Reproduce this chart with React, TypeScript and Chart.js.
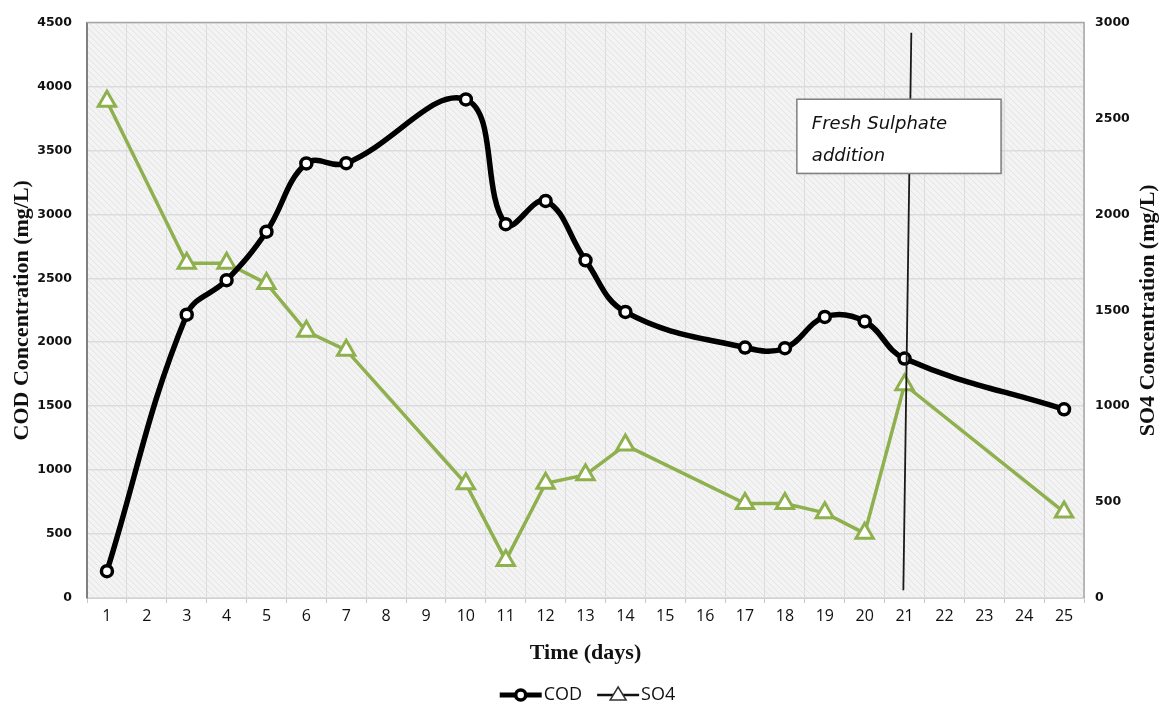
import React, { useEffect, useRef } from 'react';
import { Chart, registerables } from 'chart.js';

Chart.register(...registerables);

// ---- data ----
const days: string[] = [
  '1', '2', '3', '4', '5', '6', '7', '8', '9', '10', '11', '12', '13',
  '14', '15', '16', '17', '18', '19', '20', '21', '22', '23', '24', '25',
];
const codValues: (number | null)[] = [
  210, null, 2215, 2485, 2864, 3398, 3400, null, null, 3898, 2923, 3105, 2640,
  2237, null, null, 1958, 1953, 2198, 2163, 1872, null, null, null, 1475,
];
const so4Values: (number | null)[] = [
  2590, null, 1745, 1745, 1640, 1390, 1292, null, null, 595, 196, 598, 642,
  797, null, null, 492, 492, 444, 337, 1112, null, null, null, 448,
];
const codAxisRange = [0, 4500];
const so4AxisRange = [0, 3000];
const tickStep = 500;

const seriesNames = ['COD', 'SO4'];
const axisTitles = ['Time (days)', 'COD Concentration (mg/L)', 'SO4 Concentration (mg/L)'];
const annotationLines = ['Fresh Sulphate', 'addition'];
// annotation box (days / COD units)
const annotationDayStart = 18.3;
const annotationDayEnd = 23.42;
const annotationCodTop = 3900;
const annotationCodBottom = 3320;
// fresh sulphate marker line (days / COD units)
const markerDayTop = 21.17;
const markerDayBottom = 20.97;
const markerCodTop = 4420;
const markerCodBottom = 60;

const COD_COLOR = '#000000';
const SO4_COLOR = '#8fb04e';
const TITLE_FONT = 'bold 22px "Liberation Serif"';

function makePattern(): CanvasPattern | string {
  const c = document.createElement('canvas');
  c.width = 6;
  c.height = 6;
  const g = c.getContext('2d');
  if (!g) return '#f2f2f2';
  g.fillStyle = '#f3f3f3';
  g.fillRect(0, 0, 6, 6);
  g.strokeStyle = '#e4e4e4';
  g.lineWidth = 1;
  g.beginPath();
  g.moveTo(-1, -1);
  g.lineTo(7, 7);
  g.moveTo(-4, 2);
  g.lineTo(4, 10);
  g.moveTo(2, -4);
  g.lineTo(10, 4);
  g.stroke();
  const p = g.createPattern(c, 'repeat');
  return p || '#f2f2f2';
}

const plainNumber = (v: any) => String(v);

export default function App() {
  const canvasRef = useRef<HTMLCanvasElement | null>(null);

  useEffect(() => {
    const canvas = canvasRef.current;
    if (!canvas) return;
    const pattern = makePattern();

    const backgroundPlugin = {
      id: 'plotBackground',
      beforeDraw(chart: any) {
        const { ctx, chartArea } = chart;
        ctx.save();
        ctx.fillStyle = pattern;
        ctx.fillRect(chartArea.left, chartArea.top, chartArea.right - chartArea.left, chartArea.bottom - chartArea.top);
        ctx.restore();
      },
      beforeDatasetsDraw(chart: any) {
        const { ctx, chartArea } = chart;
        ctx.save();
        ctx.strokeStyle = '#a6a6a6';
        ctx.lineWidth = 1.5;
        ctx.beginPath();
        ctx.moveTo(chartArea.left, chartArea.top);
        ctx.lineTo(chartArea.right, chartArea.top);
        ctx.lineTo(chartArea.right, chartArea.bottom);
        ctx.stroke();
        ctx.restore();
      },
      afterDraw(chart: any) {
        // right axis title, reading bottom-to-top like the left one
        const { ctx, chartArea } = chart;
        const y1 = chart.scales.y1;
        ctx.save();
        ctx.translate(y1.right - 23, (chartArea.top + chartArea.bottom) / 2);
        ctx.rotate(-Math.PI / 2);
        ctx.font = TITLE_FONT;
        ctx.fillStyle = '#111';
        ctx.textAlign = 'center';
        ctx.textBaseline = 'middle';
        ctx.fillText(axisTitles[2], 0, 0);
        ctx.restore();
      },
    };

    const annotationPlugin = {
      id: 'sulphateAnnotation',
      afterDatasetsDraw(chart: any) {
        const { ctx } = chart;
        const x = chart.scales.x;
        const y = chart.scales.y;
        ctx.save();
        // marker line
        ctx.strokeStyle = '#1a1a1a';
        ctx.lineWidth = 1.8;
        ctx.beginPath();
        ctx.moveTo(x.getPixelForValue(markerDayTop - 1), y.getPixelForValue(markerCodTop));
        ctx.lineTo(x.getPixelForValue(markerDayBottom - 1), y.getPixelForValue(markerCodBottom));
        ctx.stroke();
        // box
        const bx0 = x.getPixelForValue(annotationDayStart - 1);
        const bx1 = x.getPixelForValue(annotationDayEnd - 1);
        const by0 = y.getPixelForValue(annotationCodTop);
        const by1 = y.getPixelForValue(annotationCodBottom);
        ctx.shadowColor = 'rgba(0,0,0,0.25)';
        ctx.shadowBlur = 3;
        ctx.shadowOffsetX = 1;
        ctx.shadowOffsetY = 1;
        ctx.fillStyle = '#ffffff';
        ctx.fillRect(bx0, by0, bx1 - bx0, by1 - by0);
        ctx.shadowColor = 'transparent';
        ctx.strokeStyle = '#7f7f7f';
        ctx.lineWidth = 1.5;
        ctx.strokeRect(bx0, by0, bx1 - bx0, by1 - by0);
        ctx.fillStyle = '#111111';
        ctx.font = 'italic 18px "DejaVu Sans"';
        ctx.textAlign = 'left';
        ctx.textBaseline = 'alphabetic';
        annotationLines.forEach((line, i) => {
          ctx.fillText(line, bx0 + 15, by0 + 30 + i * 32);
        });
        ctx.restore();
      },
    };

    const legendPlugin = {
      id: 'customLegend',
      afterDraw(chart: any) {
        const { ctx, chartArea } = chart;
        ctx.save();
        ctx.font = '18px "Open Sans"';
        ctx.textBaseline = 'middle';
        ctx.textAlign = 'left';
        const iconW = 42;
        const gap = 2;
        const spacing = 15;
        const w0 = ctx.measureText(seriesNames[0]).width;
        const w1 = ctx.measureText(seriesNames[1]).width;
        const total = iconW + gap + w0 + spacing + iconW + gap + w1;
        let cx = (chartArea.left + chartArea.right) / 2 - total / 2 + 2;
        const cy = 695;
        // COD icon
        ctx.strokeStyle = '#000';
        ctx.lineWidth = 5;
        ctx.beginPath();
        ctx.moveTo(cx, cy);
        ctx.lineTo(cx + iconW, cy);
        ctx.stroke();
        ctx.beginPath();
        ctx.arc(cx + iconW / 2, cy, 5, 0, Math.PI * 2);
        ctx.fillStyle = '#fff';
        ctx.fill();
        ctx.lineWidth = 3.5;
        ctx.stroke();
        ctx.fillStyle = '#111';
        ctx.fillText(seriesNames[0], cx + iconW + gap, cy);
        cx += iconW + gap + w0 + spacing;
        // SO4 icon
        ctx.strokeStyle = '#111';
        ctx.lineWidth = 2.5;
        ctx.beginPath();
        ctx.moveTo(cx, cy);
        ctx.lineTo(cx + iconW, cy);
        ctx.stroke();
        const tx = cx + iconW / 2;
        ctx.beginPath();
        ctx.moveTo(tx, cy - 8);
        ctx.lineTo(tx + 8, cy + 5);
        ctx.lineTo(tx - 8, cy + 5);
        ctx.closePath();
        ctx.fillStyle = '#fff';
        ctx.fill();
        ctx.lineWidth = 1.5;
        ctx.strokeStyle = '#333';
        ctx.stroke();
        ctx.fillStyle = '#111';
        ctx.fillText(seriesNames[1], cx + iconW + gap, cy);
        ctx.restore();
      },
    };

    const chart = new Chart(canvas, {
      type: 'line',
      data: {
        labels: days,
        datasets: [
          {
            label: seriesNames[0],
            data: codValues,
            yAxisID: 'y',
            borderColor: COD_COLOR,
            borderWidth: 5.5,
            tension: 0.4,
            spanGaps: true,
            pointStyle: 'circle',
            pointRadius: 5.5,
            pointBorderWidth: 3.5,
            pointBackgroundColor: '#ffffff',
            pointBorderColor: COD_COLOR,
            order: 1,
          },
          {
            label: seriesNames[1],
            data: so4Values,
            yAxisID: 'y1',
            borderColor: SO4_COLOR,
            borderWidth: 3.5,
            tension: 0,
            spanGaps: true,
            pointStyle: 'triangle',
            pointRadius: 10,
            pointBorderWidth: 3,
            pointBackgroundColor: '#ffffff',
            pointBorderColor: SO4_COLOR,
            order: 2,
          },
        ],
      },
      options: {
        responsive: false,
        animation: false,
        layout: { padding: { top: 15, bottom: 30, left: 0, right: 0 } },
        plugins: {
          legend: { display: false },
          tooltip: { enabled: false },
        },
        scales: {
          x: {
            type: 'category',
            offset: true,
            grid: {
              offset: true,
              color: '#dcdcdc',
              lineWidth: 1,
              drawTicks: true,
              tickLength: 5,
              tickColor: '#c8c8c8',
            },
            border: { display: true, color: '#d0d0d0', width: 1 },
            ticks: {
              color: '#111',
              font: { family: '"Open Sans"', size: 16 },
              padding: 4,
              maxRotation: 0,
              autoSkip: false,
            },
            title: {
              display: true,
              text: axisTitles[0],
              color: '#111',
              font: { family: '"Liberation Serif"', size: 22, weight: 'bold' },
              padding: { top: 0, bottom: 12 },
            },
            afterFit(scale: any) {
              scale.height = 81;
            },
          },
          y: {
            position: 'left',
            min: codAxisRange[0],
            max: codAxisRange[1],
            grid: { color: '#dcdcdc', lineWidth: 1.5, drawTicks: false },
            border: { display: true, color: '#7f7f7f', width: 2 },
            ticks: {
              stepSize: tickStep,
              color: '#111',
              font: { family: '"DejaVu Sans"', size: 12.5, weight: 'bold' },
              padding: 15,
              callback: plainNumber,
            },
            title: {
              display: true,
              text: axisTitles[1],
              color: '#111',
              font: { family: '"Liberation Serif"', size: 22, weight: 'bold' },
              padding: { top: 9, bottom: 0 },
            },
            afterFit(scale: any) {
              scale.width = 87;
            },
          },
          y1: {
            position: 'right',
            min: so4AxisRange[0],
            max: so4AxisRange[1],
            grid: { display: false, drawTicks: false },
            border: { display: false },
            ticks: {
              stepSize: tickStep,
              color: '#111',
              font: { family: '"DejaVu Sans"', size: 12.5, weight: 'bold' },
              padding: 11,
              callback: plainNumber,
            },
            title: { display: false },
            afterFit(scale: any) {
              scale.width = 87;
            },
          },
        },
      },
      plugins: [backgroundPlugin, annotationPlugin, legendPlugin],
    });

    return () => {
      chart.destroy();
    };
  }, []);

  return (
    <div style={{ position: 'absolute', left: 0, top: 0, width: 1171, height: 709, background: '#fff' }}>
      <canvas ref={canvasRef} width={1171} height={709} style={{ display: 'block' }} />
    </div>
  );
}
